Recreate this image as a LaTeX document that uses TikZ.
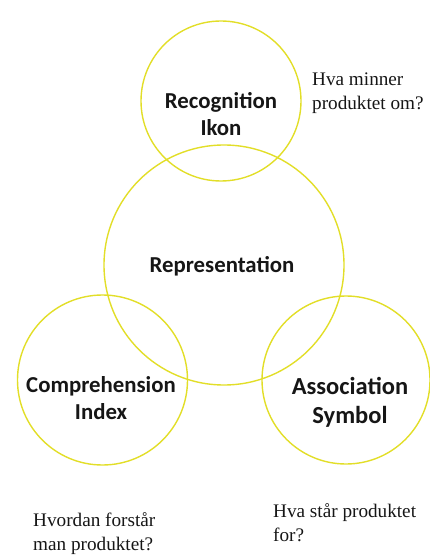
\documentclass[tikz,border=0pt]{standalone}
\usepackage{fontspec}
\setmainfont{Liberation Serif}
\newfontfamily\labelfont{Carlito}
\definecolor{ringyellow}{RGB}{226,222,40}
\definecolor{txtgray}{RGB}{22,22,22}
\tikzset{
  ring/.style={circle, draw=ringyellow, line width=1.4pt, inner sep=0pt},
  ringlabel/.style={font=\labelfont\bfseries\fontsize{22.8}{27}\selectfont, align=center, text=txtgray},
  question/.style={font=\fontsize{19.2}{24}\selectfont, align=left, anchor=base west, text=txtgray, inner sep=0pt},
}
\begin{document}
\begin{tikzpicture}[x=1pt,y=-1pt]
\useasboundingbox (0,0) rectangle (430,556);
\node[ring, minimum size=160pt] (top) at (221,101) {};
\node[ring, minimum size=240pt] (mid) at (224,265) {};
\node[ring, minimum size=170pt] (left) at (102.5,380) {};
\node[ring, minimum size=168pt] (right) at (346,380) {};
\node[ringlabel] (toptxt) at (221,114) {Recognition\\Ikon};
\node[ringlabel] (midtxt) at (222,266) {Representation};
\node[ringlabel] (lefttxt) at (101,398) {Comprehension\\Index};
\node[ringlabel, font=\labelfont\bfseries\fontsize{24.5}{29}\selectfont] (righttxt) at (350,402) {Association\\Symbol};
\node[question] (q1) at (312,110) {Hva minner\\produktet om?};
\node[question] (q2) at (33,550) {Hvordan forstår\\man produktet?};
\node[question] (q3) at (273,541) {Hva står produktet\\for?};
\end{tikzpicture}
\end{document}
